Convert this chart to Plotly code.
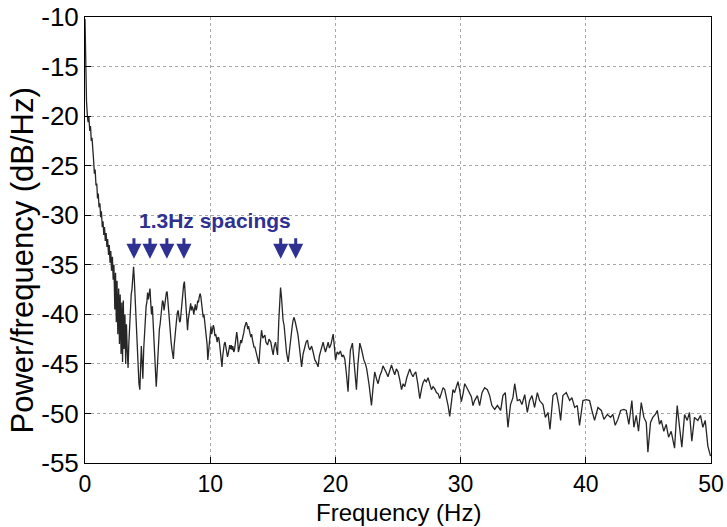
import plotly.graph_objects as go

# ---------------- data ----------------
freq_hz = [
    0.00, 0.06, 0.12, 0.19, 0.25, 0.31, 0.38, 0.44, 0.50, 0.56,
    0.62, 0.69, 0.75, 0.81, 0.88, 0.94, 1.00, 1.06, 1.12, 1.19,
    1.25, 1.31, 1.38, 1.44, 1.50, 1.56, 1.62, 1.69, 1.75, 1.81,
    1.88, 1.94, 2.00, 2.06, 2.12, 2.19, 2.25, 2.31, 2.38, 2.44,
    2.50, 2.56, 2.62, 2.69, 2.75, 2.81, 2.88, 2.94, 3.00, 3.06,
    3.12, 3.19, 3.25, 3.31, 3.38, 3.44, 3.50, 3.56, 3.62, 3.69,
    3.75, 3.81, 3.88, 3.94, 4.00, 4.06, 4.12, 4.19, 4.25, 4.31,
    4.38, 4.44, 4.50, 4.56, 4.62, 4.69, 4.75, 4.81, 4.88, 4.94,
    5.00, 5.06, 5.12, 5.19, 5.25, 5.31, 5.38, 5.44, 5.50, 5.56,
    5.62, 5.69, 5.75, 5.81, 5.88, 5.94, 6.00, 6.06, 6.12, 6.19,
    6.25, 6.31, 6.38, 6.44, 6.50, 6.56, 6.62, 6.69, 6.75, 6.81,
    6.88, 6.94, 7.00, 7.06, 7.12, 7.19, 7.25, 7.31, 7.38, 7.44,
    7.50, 7.56, 7.62, 7.69, 7.75, 7.81, 7.88, 7.94, 8.00, 8.06,
    8.12, 8.19, 8.25, 8.31, 8.38, 8.44, 8.50, 8.56, 8.62, 8.69,
    8.75, 8.81, 8.88, 8.94, 9.00, 9.06, 9.12, 9.19, 9.25, 9.31,
    9.38, 9.44, 9.50, 9.56, 9.62, 9.69, 9.75, 9.81, 9.88, 9.94,
    10.00, 10.06, 10.12, 10.19, 10.25, 10.31, 10.38, 10.44, 10.50, 10.56,
    10.62, 10.69, 10.75, 10.81, 10.88, 10.94, 11.00, 11.06, 11.12, 11.19,
    11.25, 11.31, 11.38, 11.44, 11.50, 11.56, 11.62, 11.69, 11.75, 11.81,
    11.88, 11.94, 12.00, 12.06, 12.12, 12.19, 12.25, 12.31, 12.38, 12.44,
    12.50, 12.56, 12.62, 12.69, 12.75, 12.81, 12.88, 12.94, 13.00, 13.06,
    13.12, 13.19, 13.25, 13.31, 13.38, 13.44, 13.50, 13.57, 13.75, 13.89,
    14.00, 14.10, 14.20, 14.37, 14.45, 14.58, 14.70, 14.84, 14.95, 15.03,
    15.12, 15.22, 15.30, 15.38, 15.48, 15.55, 15.62, 15.69, 15.75, 15.82,
    15.90, 16.00, 16.10, 16.23, 16.33, 16.44, 16.55, 16.62, 16.70, 16.80,
    16.90, 17.00, 17.08, 17.20, 17.30, 17.42, 17.56, 17.66, 17.77, 17.86,
    17.96, 18.10, 18.22, 18.36, 18.50, 18.62, 18.72, 18.84, 19.02, 19.12,
    19.21, 19.32, 19.42, 19.52, 19.63, 19.72, 19.82, 19.90, 20.01, 20.14,
    20.27, 20.40, 20.53, 20.64, 20.75, 20.88, 21.01, 21.10, 21.20, 21.36,
    21.44, 21.50, 21.58, 21.68, 21.80, 21.95, 22.10, 22.27, 22.40, 22.50,
    22.70, 22.88, 23.00, 23.14, 23.28, 23.41, 23.55, 23.68, 23.80, 23.94,
    24.07, 24.20, 24.34, 24.48, 24.60, 24.74, 24.87, 25.00, 25.14, 25.28,
    25.41, 25.54, 25.70, 25.82, 25.94, 26.07, 26.20, 26.30, 26.42, 26.58,
    26.74, 26.90, 27.00, 27.13, 27.26, 27.40, 27.53, 27.67, 27.80, 27.93,
    28.07, 28.20, 28.33, 28.46, 28.60, 28.73, 28.86, 29.00, 29.13, 29.26,
    29.39, 29.52, 29.66, 29.79, 29.92, 30.06, 30.20, 30.33, 30.46, 30.59,
    30.72, 30.86, 30.99, 31.12, 31.34, 31.52, 31.71, 31.92, 32.14, 32.32,
    32.50, 32.72, 32.94, 33.20, 33.38, 33.57, 33.78, 33.99, 34.18, 34.32,
    34.53, 34.72, 34.90, 35.12, 35.33, 35.51, 35.70, 35.91, 36.13, 36.31,
    36.58, 36.77, 36.98, 37.14, 37.38, 37.65, 37.83, 37.99, 38.17, 38.44,
    38.71, 38.89, 39.11, 39.32, 39.50, 39.77, 40.04, 40.30, 40.49, 40.70,
    40.97, 41.24, 41.45, 41.72, 41.98, 42.16, 42.35, 42.56, 42.78, 43.04,
    43.23, 43.44, 43.68, 43.84, 44.03, 44.21, 44.43, 44.64, 44.83, 44.96,
    45.17, 45.35, 45.55, 45.71, 45.89, 46.03, 46.23, 46.42, 46.61, 46.82,
    47.09, 47.30, 47.49, 47.67, 47.89, 48.10, 48.28, 48.47, 48.68, 48.95,
    49.16, 49.35, 49.54, 49.75, 49.96,
]

psd_db = [
    -10.2, -16.0, -18.5, -20.0, -20.6, -20.1, -21.5, -21.0, -22.5, -22.2,
    -24.0, -24.5, -25.8, -25.4, -27.0, -26.8, -28.3, -27.8, -29.2, -28.8,
    -30.2, -29.6, -31.2, -30.6, -32.0, -31.2, -32.6, -31.8, -33.2, -32.4,
    -34.0, -33.0, -34.8, -33.6, -35.6, -34.2, -36.5, -35.0, -39.5, -35.8,
    -40.8, -36.6, -42.0, -37.4, -43.0, -38.0, -44.0, -38.8, -44.8, -38.6,
    -43.5, -40.0, -45.0, -41.0, -43.8, -45.4, -43.0, -41.0, -39.0, -38.0,
    -37.5, -36.5, -35.2, -36.5, -38.5, -40.0, -42.5, -44.5, -46.0, -47.0,
    -47.6, -45.0, -43.2, -44.8, -46.5, -43.5, -42.0, -40.5, -39.2, -38.8,
    -37.8, -38.5, -37.6, -37.4, -38.8, -40.0, -39.2, -40.8, -42.5, -44.0,
    -45.5, -47.3, -46.0, -44.0, -42.5, -41.5, -41.0, -40.2, -39.5, -38.6,
    -38.8, -39.6, -39.0, -38.2, -37.8, -37.7, -38.8, -40.0, -41.3, -42.0,
    -42.8, -43.5, -44.0, -44.5, -43.2, -42.0, -41.0, -40.6, -39.8, -39.6,
    -40.2, -40.8, -40.6, -39.5, -38.5, -37.8, -37.0, -36.7, -38.0, -39.5,
    -41.0, -41.6, -40.5, -39.8, -39.2, -38.9, -39.6, -39.2, -39.4, -40.0,
    -39.5, -39.0, -39.6, -39.3, -38.6, -38.8, -38.3, -37.9, -38.2, -39.0,
    -39.8, -40.3, -40.0, -40.8, -41.0, -41.8, -43.0, -44.6, -43.5, -42.5,
    -41.6, -41.2, -42.0, -41.5, -41.1, -41.4, -42.2, -42.0, -42.6, -42.8,
    -42.3, -42.4, -43.0, -43.8, -44.5, -45.3, -44.2, -43.5, -43.0, -42.8,
    -43.2, -43.8, -44.3, -44.0, -43.4, -43.1, -43.5, -43.1, -43.6, -43.2,
    -43.8, -43.6, -43.0, -42.3, -41.8, -42.5, -43.8, -43.5, -43.0, -42.6,
    -42.9, -42.6, -42.2, -41.8, -41.3, -41.0, -40.8, -41.0, -41.5, -41.2,
    -41.8, -42.0, -42.3, -42.0, -42.6, -43.0, -43.3, -43.3, -44.2, -45.0,
    -43.0, -41.6, -42.4, -42.1, -42.8, -43.1, -42.5, -42.8, -43.6, -44.1,
    -43.2, -42.8, -43.5, -44.1, -40.6, -38.5, -37.3, -38.2, -39.8, -40.6,
    -41.1, -42.6, -43.9, -44.8, -43.5, -42.3, -41.2, -40.6, -40.3, -40.8,
    -41.3, -42.0, -42.8, -44.2, -45.3, -44.0, -43.3, -42.8, -42.6, -43.3,
    -43.6, -43.2, -43.8, -44.6, -44.9, -45.3, -44.2, -43.5, -42.8, -43.4,
    -43.8, -43.3, -42.8, -43.4, -43.1, -42.6, -42.0, -43.0, -44.6, -43.8,
    -44.0, -43.7, -44.3, -44.1, -44.5, -46.0, -47.8, -45.5, -43.6, -42.9,
    -44.0, -45.5, -46.5, -47.6, -45.0, -42.9, -43.6, -44.6, -45.0, -45.5,
    -47.2, -49.2, -47.5, -45.8, -46.5, -47.0, -46.2, -45.8, -45.2, -45.5,
    -45.9, -46.3, -45.6, -45.1, -45.6, -46.1, -45.5, -45.8, -46.6, -47.6,
    -47.0, -47.3, -46.4, -45.8, -45.5, -46.0, -46.3, -46.0, -45.8, -47.0,
    -48.5, -47.4, -46.9, -46.6, -46.8, -46.4, -46.9, -47.6, -47.3, -47.5,
    -47.9, -48.0, -48.5, -48.0, -47.4, -47.6, -48.3, -49.2, -50.3, -48.6,
    -47.6, -47.9, -47.2, -46.8, -47.6, -48.8, -48.0, -47.0, -47.3, -47.6,
    -48.0, -48.3, -49.2, -48.7, -48.2, -49.2, -47.9, -47.4, -47.6, -48.2,
    -49.2, -49.6, -49.2, -49.7, -48.2, -47.9, -51.4, -49.1, -48.4, -47.0,
    -48.7, -48.6, -49.1, -48.1, -49.9, -48.7, -48.2, -49.4, -47.9, -48.7,
    -49.1, -50.4, -49.9, -51.6, -48.2, -47.9, -49.1, -50.7, -48.2, -47.9,
    -48.7, -48.4, -49.4, -49.2, -51.2, -48.7, -48.6, -48.7, -49.7, -50.7,
    -49.4, -49.7, -50.6, -50.1, -50.4, -50.1, -51.2, -50.6, -49.7, -49.6,
    -49.7, -51.1, -48.7, -51.4, -50.2, -51.8, -48.9, -50.4, -50.9, -53.9,
    -50.9, -50.4, -50.1, -49.7, -51.1, -50.7, -51.8, -51.1, -52.4, -51.8,
    -53.5, -49.2, -51.4, -53.4, -50.1, -50.7, -49.9, -52.8, -50.4, -50.7,
    -50.2, -51.4, -50.7, -53.3, -54.3,
]

x_ticks = [0, 10, 20, 30, 40, 50]
x_tick_text = ["0", "10", "20", "30", "40", "50"]
y_ticks = [-55, -50, -45, -40, -35, -30, -25, -20, -15, -10]
y_tick_text = ["-55", "-50", "-45", "-40", "-35", "-30", "-25", "-20", "-15", "-10"]

x_title = "Frequency (Hz)"
y_title = "Power/frequency (dB/Hz)"

arrow_freqs = [3.91, 5.19, 6.54, 7.9, 15.63, 16.83]
arrow_tip_db = -34.4
label_text = "1.3Hz spacings"
label_pos = (4.15, -30.5)

# ---------------- figure ----------------
FONT = "Liberation Sans, Arial, sans-serif"
NAVY = "#2e3192"

fig = go.Figure()
fig.add_trace(go.Scatter(
    x=freq_hz, y=psd_db, mode="lines",
    line=dict(color="#262626", width=1.3),
    showlegend=False, hoverinfo="skip",
))

annotations = []
for f in arrow_freqs:
    annotations.append(dict(
        x=f, y=arrow_tip_db, xref="x", yref="y",
        ax=0, ay=-22, axref="pixel", ayref="pixel",
        text="", showarrow=True, arrowhead=2, arrowsize=1.0,
        arrowwidth=3, arrowcolor=NAVY,
    ))
annotations.append(dict(
    x=label_pos[0], y=label_pos[1], xref="x", yref="y",
    text=label_text, showarrow=False, xanchor="left", yanchor="middle",
    font=dict(family=FONT, size=21, color=NAVY, weight="bold"),
))
# axis titles placed as paper annotations for exact positioning
annotations.append(dict(
    x=0.5, y=-0.112, xref="paper", yref="paper",
    text=x_title, showarrow=False, xanchor="center", yanchor="middle",
    font=dict(family=FONT, size=24, color="black"),
))
annotations.append(dict(
    x=-0.1, y=0.455, xref="paper", yref="paper",
    text=y_title, showarrow=False, textangle=-90,
    xanchor="center", yanchor="middle",
    font=dict(family=FONT, size=31, color="black"),
))

axis_common = dict(
    showline=True, linecolor="black", linewidth=1, mirror=True,
    ticks="inside", ticklen=6, tickcolor="black",
    showgrid=True, gridcolor="#a8a8a8", griddash="dot", gridwidth=1,
    zeroline=False, automargin=False,
)

fig.update_layout(
    width=727, height=527,
    margin=dict(l=85, r=16, t=17, b=64),
    paper_bgcolor="white", plot_bgcolor="white",
    xaxis=dict(
        range=[0, 50], tickvals=x_ticks, ticktext=x_tick_text,
        tickfont=dict(family=FONT, size=23, color="black"),
        ticklabelstandoff=0,
        **axis_common,
    ),
    yaxis=dict(
        range=[-55, -10], tickvals=y_ticks, ticktext=y_tick_text,
        tickfont=dict(family=FONT, size=26, color="black"),
        **axis_common,
    ),
    annotations=annotations,
)

assert len(freq_hz) == len(psd_db)
fig.write_html("out.html")
